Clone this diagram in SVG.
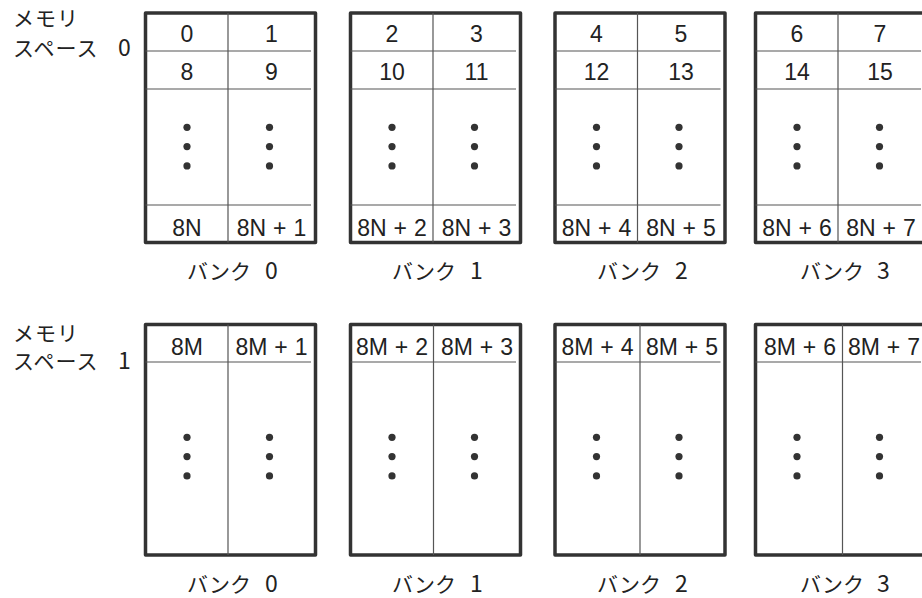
<svg xmlns="http://www.w3.org/2000/svg" xmlns:xlink="http://www.w3.org/1999/xlink" width="922" height="598" viewBox="0 0 922 598">
<style>
.frame{fill:#fff;stroke:#333;stroke-width:3.5;stroke-linejoin:round}
.thin{stroke:#555;stroke-width:1.2;fill:none}
.num{font-family:"Liberation Sans",Arial,sans-serif;font-size:23px;fill:#222;text-anchor:middle;word-spacing:0.5px}
.jp{font-family:"Noto Sans CJK JP",sans-serif;font-size:21px;fill:#222}
.dg{font-size:23px}
.dots{fill:#333}
</style>
<defs>
<g id="dots"><circle cx="0" cy="0" r="3.6"/><circle cx="0" cy="19.3" r="3.6"/><circle cx="0" cy="38.6" r="3.6"/></g>
</defs>
<rect width="922" height="598" fill="#fff"/>

<g id="space0-label">
<text class="jp" x="13" y="26" letter-spacing="1">メモリ</text>
<text class="jp" x="13" y="56" letter-spacing="1">スペース <tspan class="dg" x="118" letter-spacing="0">0</tspan></text>
</g>
<g id="space1-label">
<text class="jp" x="13" y="341" letter-spacing="1">メモリ</text>
<text class="jp" x="13" y="369" letter-spacing="1">スペース <tspan class="dg" x="118" letter-spacing="0">1</tspan></text>
</g>

<!-- Memory space 0 -->
<g id="s0-bank0">
<rect class="frame" x="145.5" y="13" width="170" height="229.5"/>
<path class="thin" d="M145.5 51H311M145.5 89H311M145.5 205H311M228 13V242.5"/>
<text class="num" x="187" y="41.5">0</text><text class="num" x="271.5" y="41.5">1</text>
<text class="num" x="187" y="80">8</text><text class="num" x="271.5" y="80">9</text>
<text class="num" x="187" y="235.5">8N</text><text class="num" x="271.5" y="235.5">8N + 1</text>
<use class="dots" xlink:href="#dots" x="187" y="127.3"/><use class="dots" xlink:href="#dots" x="269.5" y="127.3"/>
<text class="jp" x="187" y="279">バンク <tspan class="dg" x="265">0</tspan></text>
</g>
<g id="s0-bank1">
<rect class="frame" x="350.5" y="13" width="170" height="229.5"/>
<path class="thin" d="M350.5 51H516M350.5 89H516M350.5 205H516M433 13V242.5"/>
<text class="num" x="392" y="41.5">2</text><text class="num" x="476.5" y="41.5">3</text>
<text class="num" x="392" y="80">10</text><text class="num" x="476.5" y="80">11</text>
<text class="num" x="392" y="235.5">8N + 2</text><text class="num" x="476.5" y="235.5">8N + 3</text>
<use class="dots" xlink:href="#dots" x="392" y="127.3"/><use class="dots" xlink:href="#dots" x="474.5" y="127.3"/>
<text class="jp" x="392" y="279">バンク <tspan class="dg" x="470">1</tspan></text>
</g>
<g id="s0-bank2">
<rect class="frame" x="555" y="13" width="170" height="229.5"/>
<path class="thin" d="M555 51H720.5M555 89H720.5M555 205H720.5M637.5 13V242.5"/>
<text class="num" x="596.5" y="41.5">4</text><text class="num" x="681" y="41.5">5</text>
<text class="num" x="596.5" y="80">12</text><text class="num" x="681" y="80">13</text>
<text class="num" x="596.5" y="235.5">8N + 4</text><text class="num" x="681" y="235.5">8N + 5</text>
<use class="dots" xlink:href="#dots" x="596.5" y="127.3"/><use class="dots" xlink:href="#dots" x="679" y="127.3"/>
<text class="jp" x="597" y="279">バンク <tspan class="dg" x="675">2</tspan></text>
</g>
<g id="s0-bank3">
<rect class="frame" x="755.5" y="13" width="170" height="229.5"/>
<path class="thin" d="M755.5 51H921M755.5 89H921M755.5 205H921M838 13V242.5"/>
<text class="num" x="797" y="41.5">6</text><text class="num" x="880" y="41.5">7</text>
<text class="num" x="797" y="80">14</text><text class="num" x="880" y="80">15</text>
<text class="num" x="797" y="235.5">8N + 6</text><text class="num" x="881" y="235.5">8N + 7</text>
<use class="dots" xlink:href="#dots" x="797" y="127.3"/><use class="dots" xlink:href="#dots" x="879.5" y="127.3"/>
<text class="jp" x="800" y="279">バンク <tspan class="dg" x="877">3</tspan></text>
</g>

<!-- Memory space 1 -->
<g id="s1-bank0">
<rect class="frame" x="145.5" y="324.5" width="170" height="230.5"/>
<path class="thin" d="M145.5 362H311M228 324.5V555"/>
<text class="num" x="187" y="354.5">8M</text><text class="num" x="271.5" y="354.5">8M + 1</text>
<use class="dots" xlink:href="#dots" x="187" y="437.3"/><use class="dots" xlink:href="#dots" x="269.5" y="437.3"/>
<text class="jp" x="187" y="592">バンク <tspan class="dg" x="265">0</tspan></text>
</g>
<g id="s1-bank1">
<rect class="frame" x="350.5" y="324.5" width="170" height="230.5"/>
<path class="thin" d="M350.5 362H516M433.5 324.5V555"/>
<text class="num" x="392" y="354.5">8M + 2</text><text class="num" x="477" y="354.5">8M + 3</text>
<use class="dots" xlink:href="#dots" x="392" y="437.3"/><use class="dots" xlink:href="#dots" x="474.5" y="437.3"/>
<text class="jp" x="392" y="592">バンク <tspan class="dg" x="470">1</tspan></text>
</g>
<g id="s1-bank2">
<rect class="frame" x="555" y="324.5" width="170" height="230.5"/>
<path class="thin" d="M555 362H720.5M640 324.5V555"/>
<text class="num" x="597.5" y="354.5">8M + 4</text><text class="num" x="682" y="354.5">8M + 5</text>
<use class="dots" xlink:href="#dots" x="596.5" y="437.3"/><use class="dots" xlink:href="#dots" x="679" y="437.3"/>
<text class="jp" x="597" y="592">バンク <tspan class="dg" x="675">2</tspan></text>
</g>
<g id="s1-bank3">
<rect class="frame" x="755.5" y="324.5" width="170" height="230.5"/>
<path class="thin" d="M755.5 362H921M842.5 324.5V555"/>
<text class="num" x="800" y="354.5">8M + 6</text><text class="num" x="884" y="354.5">8M + 7</text>
<use class="dots" xlink:href="#dots" x="797" y="437.3"/><use class="dots" xlink:href="#dots" x="879.5" y="437.3"/>
<text class="jp" x="800" y="592">バンク <tspan class="dg" x="877">3</tspan></text>
</g>
</svg>
